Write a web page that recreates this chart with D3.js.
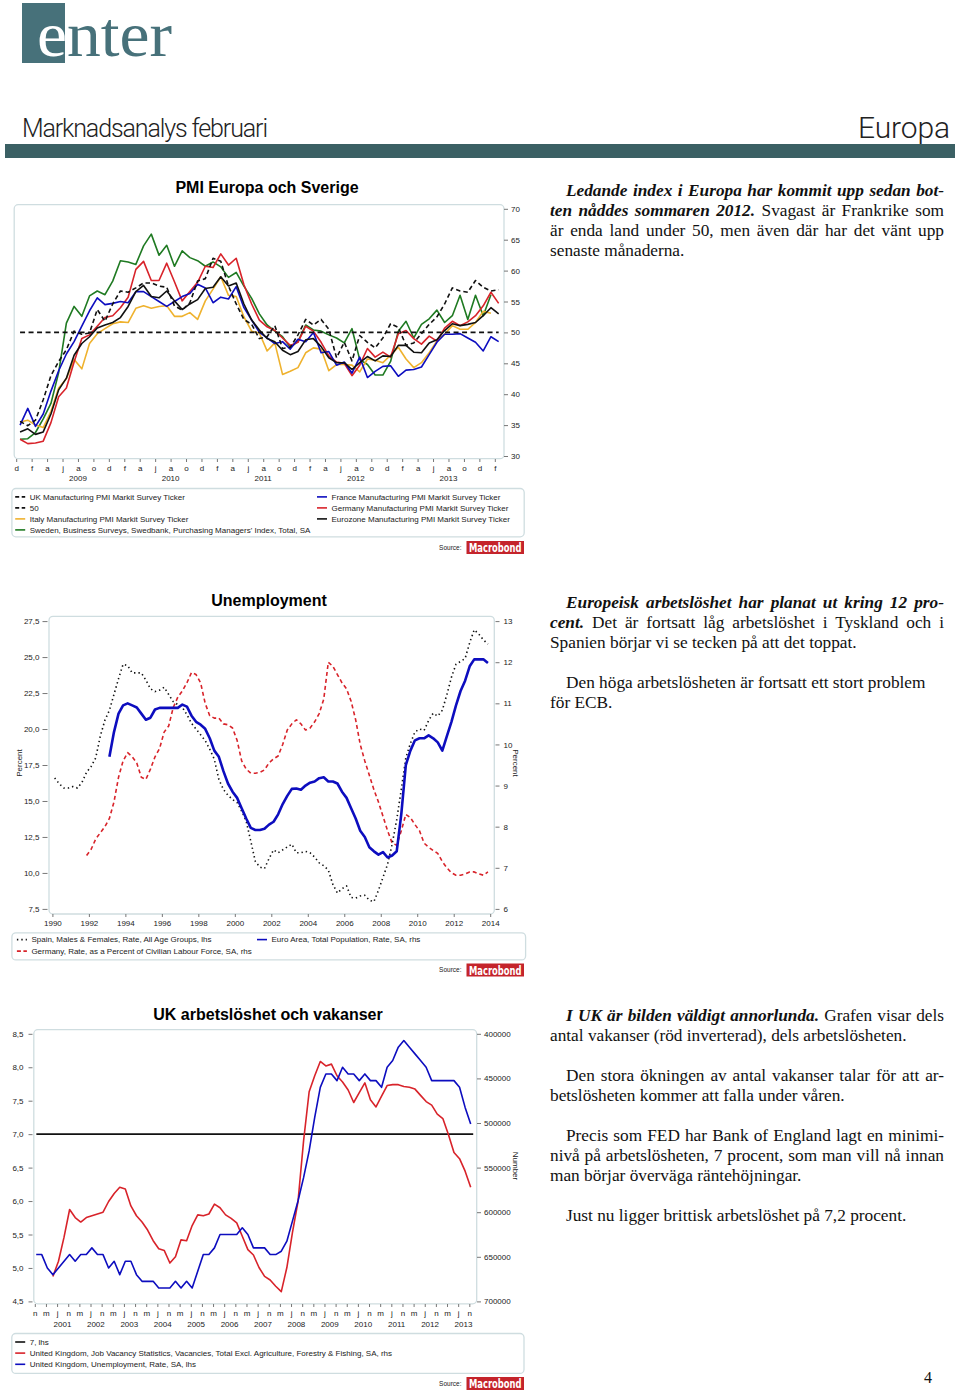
<!DOCTYPE html>
<html><head><meta charset="utf-8">
<script src="https://cdn.jsdelivr.net/npm/d3@7/dist/d3.min.js"></script>
<style>html,body{margin:0;padding:0;background:#fff}svg{display:block}</style>
</head><body>
<svg id="page" width="960" height="1396"></svg>
<script>
// ===================== DATA =====================
// Chart 1: PMI, monthly from Dec 2008
const pmiUK = [35.6,34.9,35.8,39.1,43.0,45.3,47.2,50.2,49.7,49.9,53.7,51.8,
 54.6,56.7,56.5,57.2,58.0,58.0,57.5,57.3,54.3,53.6,54.8,58.3,
 58.7,62.0,61.5,57.5,54.6,52.1,51.3,49.0,49.3,51.1,47.4,47.6,
 49.6,52.1,51.2,52.1,50.5,45.9,48.4,45.4,49.5,48.4,47.5,49.1,
 51.4,50.8,47.9,48.3,49.8,51.3,52.5,54.6,57.2,56.7,56.5,58.4,
 57.3,56.7,56.9];
const pmiEurozone = [33.9,34.4,33.5,33.9,36.8,40.7,42.6,46.3,48.2,49.3,50.7,51.2,
 51.6,52.4,54.2,56.6,57.6,55.8,55.6,56.7,55.1,53.7,54.6,55.3,
 57.1,57.3,59.0,57.5,58.0,54.6,52.0,50.4,49.0,48.5,47.1,46.4,
 46.9,48.8,49.0,47.7,45.9,45.1,45.1,44.0,45.1,46.1,45.4,46.2,
 46.1,47.9,47.9,46.8,46.7,48.3,48.8,50.3,51.4,51.1,51.3,51.6,
 52.7,54.0,53.0];
const pmiGermany = [32.7,32.0,32.1,32.4,35.4,39.6,41.0,45.2,49.0,49.6,51.0,52.4,
 52.7,54.0,55.7,60.2,61.5,58.4,58.4,61.2,58.2,55.1,56.6,58.1,
 60.7,60.5,62.7,60.9,62.0,57.7,54.6,52.0,50.9,50.3,49.1,47.9,
 48.4,51.0,50.2,48.4,46.2,45.2,45.0,43.0,44.7,47.4,46.0,46.8,
 46.0,49.8,50.3,49.0,48.1,49.4,48.6,50.7,51.8,51.1,51.7,52.7,
 54.3,56.5,54.7];
const pmiFrance = [35.0,37.7,34.8,36.8,40.5,43.8,46.5,48.5,51.0,53.5,55.6,54.5,
 54.7,55.0,54.8,56.6,56.6,55.8,55.0,54.2,55.0,55.8,56.3,57.8,
 57.2,54.8,55.7,55.4,57.4,54.0,52.0,50.0,49.1,48.2,48.5,47.3,
 48.9,48.5,50.0,46.7,46.9,44.7,45.2,43.4,46.0,42.7,43.7,44.5,
 44.6,42.9,43.9,44.0,44.4,46.4,48.4,49.7,49.7,49.8,49.1,48.4,
 47.0,49.3,48.5];
const pmiItaly = [35.5,35.8,35.0,34.6,37.2,41.0,42.5,45.6,44.1,48.2,49.8,50.6,
 51.4,51.7,51.6,53.9,54.3,53.9,54.2,54.3,52.6,52.6,53.2,52.1,
 55.1,57.0,59.0,56.0,55.8,52.5,50.2,49.9,47.0,48.3,43.2,43.7,
 44.3,46.7,47.5,47.3,43.8,44.8,44.8,44.7,43.6,45.7,45.5,45.1,
 46.3,47.6,45.7,44.3,45.1,46.7,48.6,49.7,51.1,50.5,50.5,51.6,
 53.4,53.1];
const pmiSweden = [32.7,32.8,33.8,36.0,38.5,43.5,51.5,54.2,52.6,55.9,56.7,56.1,
 58.3,61.6,61.4,61.0,64.0,65.9,62.5,64.1,60.7,63.2,62.1,61.6,
 60.7,61.4,60.6,58.9,59.7,57.5,55.5,53.0,51.2,50.2,49.3,47.6,
 48.5,51.2,50.4,50.2,49.6,49.1,48.3,50.6,45.6,44.8,43.1,43.1,
 45.3,50.2,51.8,49.1,51.3,52.2,53.6,51.6,52.7,56.0,52.1,56.0,
 52.7,56.1];
const pmiThreshold = 50;
const pmiTicks = [30,35,40,45,50,55,60,65,70];
const pmiYears = [2009,2010,2011,2012,2013];
const monthLetters = ['j','f','m','a','m','j','j','a','s','o','n','d'];

// Chart 2: unemployment, quarterly
const spainStart = 1990;   // Q1 1990
const spainQ = [16.6,16.2,15.9,15.9, 16.0,15.9,16.3,17.0, 17.4,18.0,19.5,20.6, 21.3,22.4,23.5,24.5,
 24.4,23.9,23.9,23.9, 23.4,22.8,22.6,22.7, 22.9,22.4,21.9,21.7, 21.5,21.0,20.4,20.0,
 19.6,19.2,18.6,17.9, 16.5,15.8,15.4,15.1, 14.9,14.3,13.6,12.2, 10.8,10.4,10.3,11.0,
 11.6,11.4,11.6,11.8, 12.0,11.4,11.4,11.5, 11.4,11.1,10.7,10.5, 10.2,9.2,8.6,8.9,
 9.1,8.3,8.25,8.4, 8.45,8.1,8.0,8.8, 9.7,10.6,12.0,13.7, 15.8,18.0,19.0,19.8,
 20.0,19.9,20.6,21.1, 20.9,21.3,22.4,23.6, 24.5,24.7,24.9,26.0, 26.9,26.6,26.2,25.9];
const germanyStart = 1991.75; // Q4 1991
const germanyQ = [7.3, 7.45,7.7,7.85,8.0, 8.2,8.6,9.2,9.6, 9.8,9.7,9.55,9.2, 9.15,9.4,9.7,9.9,
 10.3,10.45,10.9,11.15, 11.3,11.5,11.75,11.7, 11.5,11.0,10.7,10.64, 10.64,10.5,10.48,10.4,
 10.1,9.6,9.4,9.3, 9.3,9.32,9.38,9.55, 9.65,9.72,10.0,10.35, 10.5,10.6,10.5,10.35,
 10.4,10.55,10.75,11.1, 12.0,11.9,11.7,11.5, 11.35,11.05,10.6,10.0, 9.6,9.25,8.9,8.6,
 8.25,7.9,7.6,7.55, 7.9,8.3,8.22,8.05, 7.9,7.6,7.5,7.42, 7.35,7.15,7.0,6.88,
 6.82,6.82,6.85,6.9, 6.9,6.85,6.82,6.9];
const euroStart = 1993; // Q1 1993
const euroQ = [9.7,10.3,10.75,10.95, 11.0,10.95,10.9,10.75, 10.6,10.65,10.85,10.89, 10.89,10.89,10.89,10.89,
 10.97,10.92,10.7,10.55, 10.48,10.38,10.15,9.85, 9.7,9.35,9.05,8.85, 8.7,8.45,8.2,7.97,
 7.92,7.92,7.95,8.05, 8.12,8.3,8.55,8.75, 8.92,8.93,8.9,9.0, 9.07,9.1,9.18,9.2,
 9.1,9.1,9.05,8.85, 8.7,8.45,8.2,7.9, 7.75,7.5,7.4,7.32, 7.38,7.25,7.3,7.4,
 8.3,9.5,9.85,10.1, 10.15,10.15,10.22,10.15, 10.05,9.85,10.2,10.55, 10.95,11.3,11.55,11.9,
 12.07,12.07,12.07,11.98];
const unempLeftTicks = [7.5,10,12.5,15,17.5,20,22.5,25,27.5];
const unempRightTicks = [6,7,8,9,10,11,12,13];
const unempYears = [1990,1992,1994,1996,1998,2000,2002,2004,2006,2008,2010,2012,2014];

// Chart 3: UK, bimonthly
const vacStart = [2001, 5];   // May 2001, every 2 months
const ukVacancies = [672000,655000,628000,597000,
 606000,611000,606000,604000,602000,600000,
 588000,579000,572000,574000,593000,604000,
 611000,620000,632000,641000,643000,657000,
 650000,631000,632000,615000,603000,604000,
 602000,591000,595000,603000,607000,612000,
 627000,642000,648000,662000,672000,676000,
 683000,689000,662000,623000,588000,520000,
 465000,447000,431000,436000,434000,447000,
 454000,463000,477000,466000,455000,474000,
 482000,470000,458000,457000,457000,459000,
 460000,462000,469000,476000,480000,490000,
 495000,513000,533000,540000,554000,572000];
const unrStart = [2000, 11]; // Nov 2000, every 2 months
const ukUnemployment = [5.2,
 5.2,5.0,4.9,5.0,5.1,5.2, 5.1,5.2,5.2,5.3,5.2,5.2, 5.0,5.1,4.9,5.1,5.1,4.9,
 4.8,4.8,4.8,4.7,4.7,4.7, 4.8,4.7,4.8,4.7,4.95,5.2, 5.2,5.3,5.5,5.5,5.5,5.5,
 5.6,5.5,5.3,5.3,5.3,5.2, 5.2,5.25,5.4,5.7,6.0,6.35, 6.75,7.25,7.7,7.9,7.9,7.8,
 8.0,7.9,7.9,7.8,7.9,7.8, 7.8,7.7,8.0,8.1,8.3,8.4, 8.3,8.2,8.1,8.0,7.8,7.8,
 7.8,7.8,7.8,7.7,7.4,7.15];
const ukRef = 7;
const ukLeftTicks = [4.5,5,5.5,6,6.5,7,7.5,8,8.5];
const ukRightTicks = [400000,450000,500000,550000,600000,650000,700000];
const ukYears = d3.range(2001, 2014);

// ===================== DRAWING =====================
const SANS = "'Liberation Sans', Arial, Helvetica, sans-serif";
const SERIF = "'Liberation Serif', 'Times New Roman', serif";
const TEAL = '#47717a';
const BOX = '#cfdde0';
const C = {green:'#1f7a22', red:'#d8232a', blue:'#0d0dbf', orange:'#efb22e', black:'#111'};
const svg = d3.select('#page');
const comma = f => d => d3.format(f)(d).replace('.', ',');

// ---- Header
svg.append('rect').attr('x',22).attr('y',3).attr('width',43).attr('height',60).attr('fill',TEAL);
const logo = svg.append('text').attr('x',37).attr('y',56).attr('font-family',SERIF)
  .attr('font-size',64).attr('textLength',135).attr('lengthAdjust','spacingAndGlyphs');
logo.append('tspan').attr('fill','#fff').text('e');
logo.append('tspan').attr('fill',TEAL).text('nter');
svg.append('text').attr('x',22).attr('y',137).attr('font-family',"Roboto, 'Open Sans', Lato, sans-serif")
  .attr('font-weight',300).attr('font-size',25).attr('textLength',246).attr('fill','#222').text('Marknadsanalys februari');
svg.append('text').attr('x',950).attr('y',138).attr('text-anchor','end').attr('font-family',"Roboto, 'Open Sans', Lato, sans-serif")
  .attr('font-weight',300).attr('font-size',30).attr('textLength',92).attr('fill','#222').text('Europa');
svg.append('rect').attr('x',5).attr('y',144).attr('width',950).attr('height',14).attr('fill','#3b6064');

// ---- helpers
function styleAxis(g){
  g.attr('font-family',SANS).attr('font-size',8);
  g.select('.domain').remove();
  g.selectAll('.tick line').attr('stroke','#777');
  g.selectAll('.tick text').attr('fill','#222');
}
function title(x,y,t){
  svg.append('text').attr('x',x).attr('y',y).attr('text-anchor','middle').attr('font-family',SANS)
    .attr('font-weight','bold').attr('font-size',16).attr('fill','#000').text(t);
}
function box(x,y,w,h){
  svg.append('rect').attr('x',x).attr('y',y).attr('width',w).attr('height',h).attr('rx',4)
    .attr('fill','none').attr('stroke',BOX).attr('stroke-width',1.3);
}
function legendItem(x,y,color,dash,label,w){
  svg.append('line').attr('x1',x).attr('x2',x+(w||10)).attr('y1',y).attr('y2',y)
    .attr('stroke',color).attr('stroke-width',1.6)
    .attr('stroke-dasharray',dash==='dash'?'4,2.5':(dash==='dot'?'1.4,3':null));
  svg.append('text').attr('x',x+14.5).attr('y',y+2.8).attr('font-family',SANS).attr('font-size',8)
    .attr('fill','#222').text(label);
}
function source(yTop){
  svg.append('text').attr('x',461.5).attr('y',yTop+8.5).attr('text-anchor','end').attr('font-family',SANS)
    .attr('font-size',6.5).attr('fill','#222').text('Source:');
  svg.append('rect').attr('x',466.5).attr('y',yTop).attr('width',57.5).attr('height',13).attr('fill','#c4242b');
  svg.append('text').attr('x',469).attr('y',yTop+11).attr('font-family',"'DejaVu Sans', sans-serif")
    .attr('font-weight','bold').attr('font-stretch','condensed').attr('font-size',12)
    .attr('textLength',52.5).attr('lengthAdjust','spacingAndGlyphs').attr('fill','#fff').text('Macrobond');
}
function series(data, xf, yf, color, width, dash){
  svg.append('path').datum(data).attr('fill','none').attr('stroke',color).attr('stroke-width',width)
    .attr('stroke-linejoin','round').attr('stroke-dasharray',dash||null)
    .attr('d', d3.line().x((d,i)=>xf(i)).y(d=>yf(d)));
}

// ===================== CHART 1 =====================
title(267, 193, 'PMI Europa och Sverige');
box(14.2, 204.7, 489.8, 254);
// months since 1 Dec 2008
const c1x = d3.scaleLinear().domain([0, 62]).range([16.2, 494.8]);
const c1y = d3.scaleLinear().domain([30, 70]).range([456, 208.8]);
svg.append('g').attr('transform','translate(504,0)')
  .call(d3.axisRight(c1y).tickValues(pmiTicks).tickSize(4).tickPadding(3).tickFormat(d3.format('d'))).call(styleAxis);
svg.append('g').attr('transform','translate(0,459)')
  .call(d3.axisBottom(c1x).tickValues(d3.range(0,63,2)).tickSize(3).tickPadding(3)
    .tickFormat(k => monthLetters[(11+k)%12])).call(styleAxis);
pmiYears.forEach(yr => svg.append('text').attr('x', c1x((yr-2009)*12+8)).attr('y',481)
  .attr('text-anchor','middle').attr('font-family',SANS).attr('font-size',8).attr('fill','#222').text(yr));
const mx = i => c1x(i+0.5);
series(pmiSweden, mx, c1y, C.green, 1.6);
series(pmiItaly, mx, c1y, C.orange, 1.6);
series(pmiGermany, mx, c1y, C.red, 1.6);
series(pmiFrance, mx, c1y, C.blue, 1.6);
series(pmiEurozone, mx, c1y, C.black, 1.6);
series(pmiUK, mx, c1y, C.black, 1.6, '4.5,3');
svg.append('line').attr('x1',mx(0)).attr('x2',mx(62)).attr('y1',c1y(pmiThreshold)).attr('y2',c1y(pmiThreshold))
  .attr('stroke',C.black).attr('stroke-width',1.8).attr('stroke-dasharray','5,3.5');
// legend
box(11.9, 488.5, 512.3, 48.3);
legendItem(15.2,496.9,C.black,'dash','UK Manufacturing PMI Markit Survey Ticker');
legendItem(15.2,507.9,C.black,'dash','50');
legendItem(15.2,518.9,C.orange,null,'Italy Manufacturing PMI Markit Survey Ticker');
legendItem(15.2,529.9,C.green,null,"Sweden, Business Surveys, Swedbank, Purchasing Managers' Index, Total, SA");
legendItem(317,496.9,C.blue,null,'France Manufacturing PMI Markit Survey Ticker');
legendItem(317,507.9,C.red,null,'Germany Manufacturing PMI Markit Survey Ticker');
legendItem(317,518.9,C.black,null,'Eurozone Manufacturing PMI Markit Survey Ticker');
source(541);

// ===================== CHART 2 =====================
title(269, 606, 'Unemployment');
box(49, 616.4, 445.3, 297.6);
const c2x = d3.scaleLinear().domain([1990, 2014]).range([52.4, 490.2]);
const c2yL = d3.scaleLinear().domain([7.5, 27.5]).range([908.9, 621.1]);
const c2yR = d3.scaleLinear().domain([6, 13]).range([908.9, 621.1]);
svg.append('g').attr('transform','translate(47.5,0)')
  .call(d3.axisLeft(c2yL).tickValues(unempLeftTicks).tickSize(5).tickPadding(3).tickFormat(comma('.1f'))).call(styleAxis);
svg.append('g').attr('transform','translate(495.5,0)')
  .call(d3.axisRight(c2yR).tickValues(unempRightTicks).tickSize(4).tickPadding(4).tickFormat(d3.format('d'))).call(styleAxis);
svg.append('g').attr('transform','translate(0,914)')
  .call(d3.axisBottom(c2x).tickValues(unempYears).tickSize(3).tickPadding(3).tickFormat(d3.format('d'))).call(styleAxis);
svg.append('text').attr('transform','translate(22,763) rotate(-90)').attr('text-anchor','middle')
  .attr('font-family',SANS).attr('font-size',8).attr('fill','#222').text('Percent');
svg.append('text').attr('transform','translate(513,763) rotate(90)').attr('text-anchor','middle')
  .attr('font-family',SANS).attr('font-size',8).attr('fill','#222').text('Percent');
series(germanyQ, i => c2x(germanyStart + (i+0.5)/4), c2yR, C.red, 1.6, '4,3');
series(spainQ, i => c2x(spainStart + (i+0.5)/4), c2yL, C.black, 1.6, '1.4,3');
series(euroQ, i => c2x(euroStart + (i+0.5)/4), c2yR, C.blue, 2.6);
box(11.9, 932.9, 513.7, 27);
legendItem(16.9,939.6,C.black,'dot','Spain, Males & Females, Rate, All Age Groups, lhs');
legendItem(16.9,951.1,C.red,'dash','Germany, Rate, as a Percent of Civilian Labour Force, SA, rhs');
legendItem(257,939.6,C.blue,null,'Euro Area, Total Population, Rate, SA, rhs');
source(963.5);

// ===================== CHART 3 =====================
title(268, 1020, 'UK arbetslöshet och vakanser');
box(33.8, 1029.7, 442.9, 274.1);
const c3x = d3.scaleLinear().domain([2000 + 10/12, 2013 + 10/12]).range([34.8, 469.3]);
const c3yL = d3.scaleLinear().domain([4.5, 8.5]).range([1301.4, 1033.8]);
const c3yR = d3.scaleLinear().domain([400000, 700000]).range([1033.8, 1301.4]);
svg.append('g').attr('transform','translate(32.5,0)')
  .call(d3.axisLeft(c3yL).tickValues(ukLeftTicks).tickSize(4).tickPadding(5).tickFormat(comma('.1f'))).call(styleAxis);
svg.append('g').attr('transform','translate(477,0)')
  .call(d3.axisRight(c3yR).tickValues(ukRightTicks).tickSize(4).tickPadding(3).tickFormat(d3.format('d'))).call(styleAxis);
const c3ticks = d3.range(40).map(k => 2000 + (10 + 4*k)/12);
svg.append('g').attr('transform','translate(0,1304)')
  .call(d3.axisBottom(c3x).tickValues(c3ticks).tickSize(3).tickPadding(3)
    .tickFormat((t,k) => monthLetters[(10+4*k)%12])).call(styleAxis);
ukYears.forEach(yr => svg.append('text').attr('x', c3x(yr+0.66)).attr('y',1326.5)
  .attr('text-anchor','middle').attr('font-family',SANS).attr('font-size',8).attr('fill','#222').text(yr));
svg.append('text').attr('transform','translate(513,1166) rotate(90)').attr('text-anchor','middle')
  .attr('font-family',SANS).attr('font-size',8).attr('fill','#222').text('Number');
svg.append('line').attr('x1',c3x(2000.88)).attr('x2',c3x(2013.95)).attr('y1',c3yL(ukRef)).attr('y2',c3yL(ukRef))
  .attr('stroke',C.black).attr('stroke-width',1.6);
series(ukVacancies, i => c3x(vacStart[0] + (vacStart[1]-0.5 + 2*i)/12), c3yR, C.red, 1.6);
series(ukUnemployment, i => c3x(unrStart[0] + (unrStart[1]-0.5 + 2*i)/12), c3yL, C.blue, 1.6);
box(11.8, 1333.5, 512.2, 39.9);
legendItem(15.2,1342,C.black,null,'7, lhs');
legendItem(15.2,1353.1,C.red,null,'United Kingdom, Job Vacancy Statistics, Vacancies, Total Excl. Agriculture, Forestry & Fishing, SA, rhs');
legendItem(15.2,1364.3,C.blue,null,'United Kingdom, Unemployment, Rate, SA, lhs');
source(1377);

// ===================== BODY TEXT =====================
function textLine(x, y, segs, width){
  const t = svg.append('text').attr('x',x).attr('y',y).attr('font-family',SERIF)
    .attr('font-size',17.3).attr('fill','#111');
  segs.forEach(s => {
    const sp = t.append('tspan').text(s[1]);
    if (s[0]) sp.attr('font-weight','bold').attr('font-style','italic');
  });
  if (width){
    const nat = t.node().getComputedTextLength();
    const n = (segs.map(s=>s[1]).join('').match(/ /g)||[]).length;
    if (n) t.style('word-spacing', ((width-nat)/n)+'px');
  }
}
const R = 944;
textLine(566,196,[[1,'Ledande index i Europa har kommit upp sedan bot-']],R-566);
textLine(550,216,[[1,'ten nåddes sommaren 2012.'],[0,' Svagast är Frankrike som']],R-550);
textLine(550,236,[[0,'är enda land under 50, men även där har det vänt upp']],R-550);
textLine(550,256,[[0,'senaste månaderna.']]);

textLine(566,607.5,[[1,'Europeisk arbetslöshet har planat ut kring 12 pro-']],R-566);
textLine(550,627.5,[[1,'cent.'],[0,' Det är fortsatt låg arbetslöshet i Tyskland och i']],R-550);
textLine(550,647.5,[[0,'Spanien börjar vi se tecken på att det toppat.']]);
textLine(566,687.5,[[0,'Den höga arbetslösheten är fortsatt ett stort problem']]);
textLine(550,707.5,[[0,'för ECB.']]);

textLine(566,1021,[[1,'I UK är bilden väldigt annorlunda.'],[0,' Grafen visar dels']],R-566);
textLine(550,1041,[[0,'antal vakanser (röd inverterad), dels arbetslösheten.']]);
textLine(566,1081,[[0,'Den stora ökningen av antal vakanser talar för att ar-']],R-566);
textLine(550,1101,[[0,'betslösheten kommer att falla under våren.']]);
textLine(566,1141,[[0,'Precis som FED har Bank of England lagt en minimi-']],R-566);
textLine(550,1161,[[0,'nivå på arbetslösheten, 7 procent, som man vill nå innan']],R-550);
textLine(550,1181,[[0,'man börjar överväga räntehöjningar.']]);
textLine(566,1221,[[0,'Just nu ligger brittisk arbetslöshet på 7,2 procent.']]);

svg.append('text').attr('x',924).attr('y',1383).attr('font-family',SERIF).attr('font-size',16).attr('fill','#111').text('4');
</script>
</body></html>
